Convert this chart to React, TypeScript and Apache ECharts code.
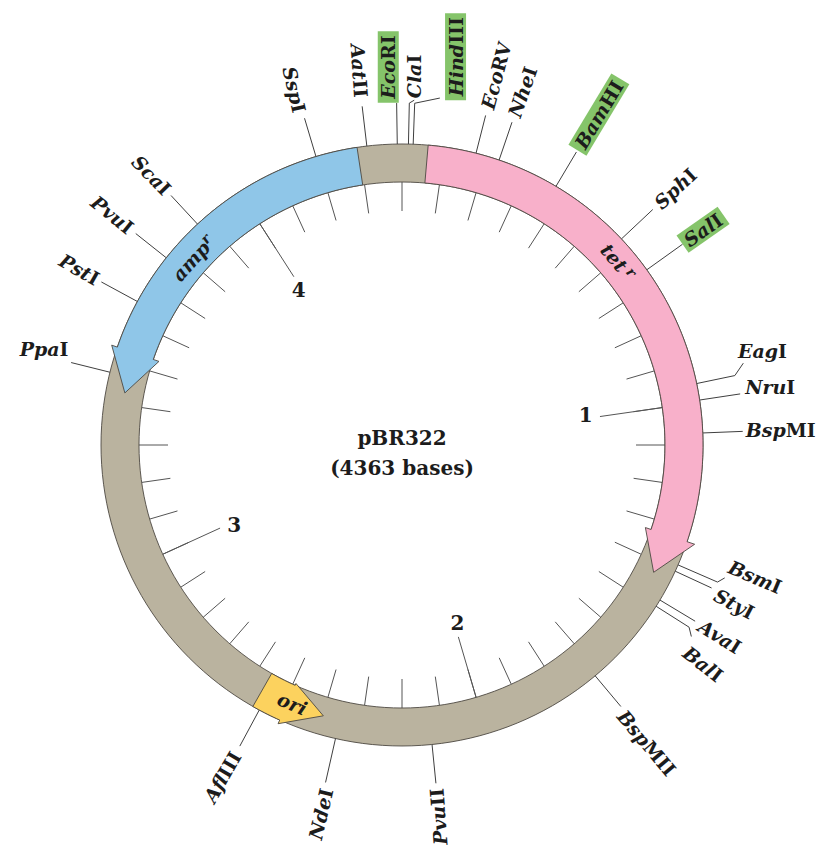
import React, { useEffect, useRef } from 'react';
import * as echarts from 'echarts';

const PLASMID_NAME = 'pBR322';
const PLASMID_SIZE_TEXT = '(4363 bases)';
const MAP_SPAN = 4400; // bp covered by the drawn circle (44 ticks of 100 bp)
const TICK_STEP = 100;
const KB_MARKS = [1000, 2000, 3000, 4000];
const KB_LABELS = ['1', '2', '3', '4'];

const GENE_NAMES = ['tet', 'amp', 'ori'];
const GENE_SUPERSCRIPT = ['r', 'r', ''];
const GENE_START = [61, 4295, 2563];
const GENE_BODY_END = [1329, 3532, 2493];
const GENE_TIP = [1428, 3430, 2398];
const GENE_LABEL_POS = [607, 3811, 2481];

const SITE_NAMES = [
  'SspI', 'AatII', 'EcoRI', 'ClaI', 'HindIII', 'EcoRV', 'NheI', 'BamHI', 'SphI', 'SalI',
  'EagI', 'NruI', 'BspMI', 'BsmI', 'StyI', 'AvaI', 'BalI', 'BspMII', 'PvuII', 'NdeI',
  'AflIII', 'PpaI', 'PstI', 'PvuI', 'ScaI',
];
const SITE_POS = [
  4197, 4318, 4389, 15, 26, 174, 230, 376, 572, 665,
  956, 995, 1072, 1387, 1403, 1479, 1496, 1712, 2130, 2356,
  2546, 3471, 3648, 3770, 3877,
];
const UNIQUE_SITES = ['EcoRI', 'HindIII', 'BamHI', 'SalI'];

// ---- layout / style ----
const CENTER = [402, 445];
const R_IN = 263;
const R_OUT = 301;
const R_MID = 282;
const SHORT_TICK = 29;
const LONG_TICK_END = 200;
const KB_LABEL_R = 186;
const KB_LABEL_SHIFT = -12;
const DEG = MAP_SPAN / 360;

const GENE_COLORS = ['#f8b0ca', '#8fc6e8', '#fcd25e'];
const GENE_HEAD_OUT = [8, 6, 4];
const GENE_HEAD_IN = [6, 6, 2];
const GENE_LABEL_R = [283, 280, 281];
const BACKBONE = '#bab39f';
const OUTLINE = '#4d4842';
const LINE_COLOR = '#3f3f3f';
const TEXT_COLOR = '#1c1c1c';
const BOX_COLOR = '#85c46a';
const FONT = '"DejaVu Serif", serif';

// lineR: end of radial leader; bend: [r, deg offset]; text: [r, deg offset]; rot (deg ccw); side
const SITE_LAYOUT: Record<string, any> = {
  SspI: { lineR: 341, text: [348, -0.5], rot: -77, side: 'in' },
  AatII: { lineR: 341, text: [350, 0], rot: -86, side: 'in' },
  EcoRI: { lineR: 342, text: [342.5, -1.4], rot: 90, side: 'out' },
  ClaI: { lineR: 342, bend: [345, 0.8], text: [347, 0.8], rot: 90, side: 'out' },
  HindIII: { lineR: 342, bend: [349, 4.1], text: [349, 6.7], rot: 90, side: 'out' },
  EcoRV: { lineR: 340, text: [347, 0], rot: 75, side: 'out' },
  NheI: { lineR: 341, text: [347, 0], rot: 71, side: 'out' },
  BamHI: { lineR: 341, text: [343, 0], rot: 59, side: 'out' },
  SphI: { lineR: 344, text: [350, 0], rot: 43, side: 'out' },
  SalI: { lineR: 345, text: [345, 0], rot: 35, side: 'out' },
  EagI: { lineR: 340, bend: [351, -1.7], text: [349, -3.9], rot: 0, side: 'out' },
  NruI: { lineR: 342, text: [348, -1], rot: 0, side: 'out' },
  BspMI: { lineR: 341, text: [344, -0.2], rot: 0, side: 'out' },
  BsmI: { lineR: 344, bend: [349, -1.1], text: [349, -3.2], rot: -23, side: 'out' },
  StyI: { lineR: 341, text: [347, 0.6], rot: -28, side: 'out' },
  AvaI: { lineR: 342, text: [348, 0], rot: -32, side: 'out' },
  BalI: { lineR: 340, bend: [347, 1.1], text: [350, 3.5], rot: -38, side: 'out' },
  BspMII: { lineR: 341, text: [346, 0.6], rot: -50, side: 'out' },
  PvuII: { lineR: 340, text: [345, 0], rot: 94, side: 'in' },
  NdeI: { lineR: 346, text: [352, -0.4], rot: 77, side: 'in' },
  AflIII: { lineR: 342, text: [350, 0], rot: 60, side: 'in' },
  PpaI: { lineR: 341, text: [347, 2], rot: 0, side: 'in' },
  PstI: { lineR: 342, text: [346, 0], rot: -30, side: 'in' },
  PvuI: { lineR: 340, text: [346, 0], rot: -39, side: 'in' },
  ScaI: { lineR: 340, text: [345, 0], rot: -46, side: 'in' },
};

const baseFont = { fontFamily: FONT, fontSize: 19, fontWeight: 'bold', fill: TEXT_COLOR, lineHeight: 19 };
const SITE_RICH = {
  i: { ...baseFont, fontStyle: 'italic' },
  r: { ...baseFont, fontStyle: 'normal' },
};
const GENE_RICH = {
  i: { ...baseFont, fontStyle: 'italic', lineHeight: 22 },
  s: { ...baseFont, fontStyle: 'italic', fontSize: 14, lineHeight: 22, verticalAlign: 'top' },
};

export default function App() {
  const ref = useRef<HTMLDivElement>(null);
  useEffect(() => {
    const chart = echarts.init(ref.current as HTMLDivElement, null, { renderer: 'svg' });
    const option: any = {
      animation: false,
      backgroundColor: '#ffffff',
      polar: { center: CENTER, radius: R_IN },
      radiusAxis: { min: 0, max: R_IN, show: false },
      angleAxis: {
        type: 'value',
        min: 0,
        max: MAP_SPAN,
        interval: TICK_STEP,
        startAngle: 90,
        clockwise: true,
        axisLine: { show: false },
        axisLabel: { show: false },
        splitLine: { show: false },
        axisTick: { show: true, inside: true, length: SHORT_TICK, lineStyle: { color: '#555', width: 1 } },
      },
      series: [
        {
          type: 'custom',
          coordinateSystem: 'polar',
          silent: true,
          data: [[0, 0]],
          renderItem: (params: any, api: any) => {
            const c = api.coord([0, 0]);
            const o = api.coord([R_OUT, 0]);
            const i = api.coord([R_IN, 0]);
            return {
              type: 'ring',
              shape: {
                cx: c[0], cy: c[1],
                r: Math.hypot(o[0] - c[0], o[1] - c[1]),
                r0: Math.hypot(i[0] - c[0], i[1] - c[1]),
              },
              style: { fill: BACKBONE, stroke: OUTLINE, lineWidth: 0.9 },
            };
          },
        },
        {
          type: 'custom',
          coordinateSystem: 'polar',
          silent: true,
          data: KB_MARKS.map((m) => [0, m]),
          renderItem: (params: any, api: any) => {
            const k = params.dataIndex;
            const m = KB_MARKS[k];
            const a = api.coord([R_IN, m]);
            const b = api.coord([LONG_TICK_END, m]);
            const t = api.coord([KB_LABEL_R, m + KB_LABEL_SHIFT]);
            return {
              type: 'group',
              children: [
                { type: 'line', shape: { x1: a[0], y1: a[1], x2: b[0], y2: b[1] }, style: { stroke: '#555', lineWidth: 1 } },
                {
                  type: 'text', x: t[0], y: t[1],
                  style: { text: KB_LABELS[k], fontFamily: FONT, fontSize: 20, fontWeight: 'bold', fill: TEXT_COLOR, align: 'center', verticalAlign: 'middle' },
                },
              ],
            };
          },
        },
        {
          type: 'custom',
          coordinateSystem: 'polar',
          silent: true,
          data: SITE_POS.map((p) => [0, p]),
          renderItem: (params: any, api: any) => {
            const i = params.dataIndex;
            const name = SITE_NAMES[i];
            const p = SITE_POS[i];
            const L = SITE_LAYOUT[name];
            const pts = [api.coord([R_OUT, p]), api.coord([L.lineR, p])];
            if (L.bend) pts.push(api.coord([L.bend[0], p + L.bend[1] * DEG]));
            const tp = api.coord([L.text[0], p + L.text[1] * DEG]);
            const mm = name.match(/^([A-Z][a-z]+)(.*)$/) as RegExpMatchArray;
            const boxed = UNIQUE_SITES.indexOf(name) >= 0;
            const style: any = {
              text: `{i|${mm[1]}}{r|${mm[2]}}`,
              rich: SITE_RICH,
              align: L.side === 'out' ? 'left' : 'right',
              verticalAlign: 'middle',
            };
            if (boxed) {
              style.backgroundColor = BOX_COLOR;
              style.padding = [1, 4];
            }
            return {
              type: 'group',
              children: [
                { type: 'polyline', shape: { points: pts }, style: { stroke: LINE_COLOR, lineWidth: 1, fill: 'none' } },
                { type: 'text', x: tp[0], y: tp[1], rotation: (L.rot * Math.PI) / 180, style },
              ],
            };
          },
        },
        {
          type: 'custom',
          coordinateSystem: 'polar',
          silent: true,
          data: GENE_START.map((s) => [0, s]),
          renderItem: (params: any, api: any) => {
            const g = params.dataIndex;
            const s = GENE_START[g];
            const e = GENE_BODY_END[g];
            const t = GENE_TIP[g];
            const n = Math.max(2, Math.ceil(Math.abs(e - s) / 8));
            const outer: number[][] = [];
            const inner: number[][] = [];
            for (let j = 0; j <= n; j++) {
              const a = s + ((e - s) * j) / n;
              outer.push(api.coord([R_OUT, a]));
              inner.push(api.coord([R_IN, a]));
            }
            inner.reverse();
            const pts = [
              ...outer,
              api.coord([R_OUT + GENE_HEAD_OUT[g], e]),
              api.coord([R_MID, t]),
              api.coord([R_IN - GENE_HEAD_IN[g], e]),
              ...inner,
            ];
            const lp = GENE_LABEL_POS[g];
            const lc = api.coord([GENE_LABEL_R[g], lp]);
            const deg = (lp / DEG) % 360;
            let rot = -deg;
            if (deg > 90 && deg < 270) rot = 180 - deg;
            const sup = GENE_SUPERSCRIPT[g];
            return {
              type: 'group',
              children: [
                { type: 'polygon', shape: { points: pts }, style: { fill: GENE_COLORS[g], stroke: OUTLINE, lineWidth: 0.9 } },
                {
                  type: 'text', x: lc[0], y: lc[1], rotation: (rot * Math.PI) / 180,
                  style: {
                    text: sup ? `{i|${GENE_NAMES[g]}${g === 0 ? '\u2009' : ''}}{s|${sup}}` : `{i|${GENE_NAMES[g]}}`,
                    rich: GENE_RICH,
                    align: 'center',
                    verticalAlign: 'middle',
                  },
                },
              ],
            };
          },
        },
        {
          type: 'custom',
          coordinateSystem: 'polar',
          silent: true,
          data: [[0, 0]],
          renderItem: (params: any, api: any) => {
            const c = api.coord([0, 0]);
            const st = { fontFamily: FONT, fontSize: 20, fontWeight: 'bold', fill: TEXT_COLOR, align: 'center', verticalAlign: 'middle' };
            return {
              type: 'group',
              children: [
                { type: 'text', x: c[0], y: c[1] - 7, style: { ...st, text: PLASMID_NAME } },
                { type: 'text', x: c[0], y: c[1] + 23, style: { ...st, text: PLASMID_SIZE_TEXT } },
              ],
            };
          },
        },
      ],
    };
    chart.setOption(option);
    return () => chart.dispose();
  }, []);
  return <div ref={ref} style={{ position: 'absolute', left: 0, top: 0, width: 821, height: 848 }} />;
}
